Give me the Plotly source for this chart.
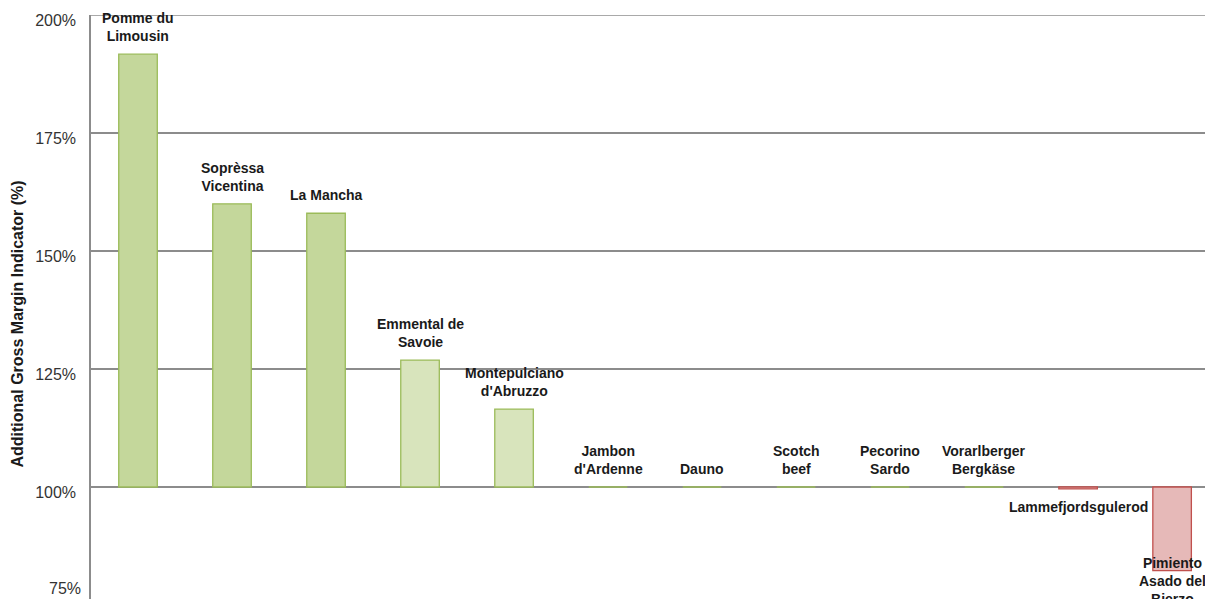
import plotly.graph_objects as go

categories = ["Pomme du<br>Limousin", "Soprèssa<br>Vicentina", "La Mancha", "Emmental de<br>Savoie",
              "Montepulciano<br>d'Abruzzo", "Jambon<br>d'Ardenne", "Dauno", "Scotch<br>beef",
              "Pecorino<br>Sardo", "Vorarlberger<br>Bergkäse", "Lammefjordsgulerod",
              "Pimiento<br>Asado del<br>Bierzo"]
values = [191.7, 160.0, 158.0, 126.9, 116.5, 100.0, 100.0, 100.0, 100.0, 100.0, 99.6, 82.3]
tick_vals = [100, 125, 150, 175, 200]
tick_text = ["100%", "125%", "150%", "175%", "200%"]
baseline = 100

fill_colors = ["#C4D79B", "#C4D79B", "#C4D79B", "#D8E4BC", "#D8E4BC", "#D8E4BC", "#D8E4BC",
               "#D8E4BC", "#D8E4BC", "#D8E4BC", "#E6B9B8", "#E6B9B8"]
line_colors = ["#9BBB59"] * 10 + ["#C0504D", "#C0504D"]

x_idx = list(range(len(categories)))
fig = go.Figure()
fig.add_trace(go.Bar(
    x=x_idx, y=[v - baseline for v in values], base=baseline, width=0.41,
    marker=dict(color=fill_colors, line=dict(color=line_colors, width=1.3)),
    hoverinfo="skip"))

label_font = dict(family="Liberation Sans", size=14, color="#1a1a1a")
for i, (c, v) in enumerate(zip(categories, values)):
    if v >= baseline:
        fig.add_annotation(x=i, y=v, xref="x", yref="y", text="<b>%s</b>" % c, showarrow=False,
                           yanchor="bottom", yshift=8, font=label_font)
    else:
        shift = -8 if v > 95 else 18
        fig.add_annotation(x=i, y=v, xref="x", yref="y", text="<b>%s</b>" % c, showarrow=False,
                           yanchor="top", yshift=shift, font=label_font)

# top border line at 200%
fig.add_shape(type="line", xref="paper", x0=0, x1=1, yref="y", y0=200, y1=200,
              line=dict(color="#8c8c8c", width=1.5), layer="below")

# 75% label at cropped bottom
fig.add_annotation(x=0, xref="paper", xanchor="right", xshift=-8, y=0, yref="paper",
                   yanchor="bottom", yshift=0, text="75%", showarrow=False,
                   font=dict(family="Liberation Sans", size=16, color="#333333"))
fig.add_annotation(x=0, xref="paper", xanchor="center", xshift=-73, y=0.47, yref="paper",
                   text="<b>Additional Gross Margin Indicator (%)</b>", textangle=-90, showarrow=False,
                   font=dict(family="Liberation Sans", size=16, color="#1a1a1a"))

fig.update_layout(
    width=1205, height=599, margin=dict(l=91, r=0, t=15, b=0),
    paper_bgcolor="white", plot_bgcolor="white", showlegend=False,
    xaxis=dict(range=[-0.5, 11.35], showticklabels=False, showgrid=False, zeroline=False,
               ticks="", fixedrange=True),
    yaxis=dict(range=[76.27, 200], tickvals=tick_vals, ticktext=tick_text, showgrid=True,
               gridcolor="#8c8c8c", gridwidth=1.5, zeroline=False, showline=True,
               linecolor="#8c8c8c", linewidth=1.5, ticks="", ticklabelstandoff=10,
               ticklabelshift=5, automargin=False,
               tickfont=dict(family="Liberation Sans", size=16, color="#333333")),
)
fig.write_html("out.html")
